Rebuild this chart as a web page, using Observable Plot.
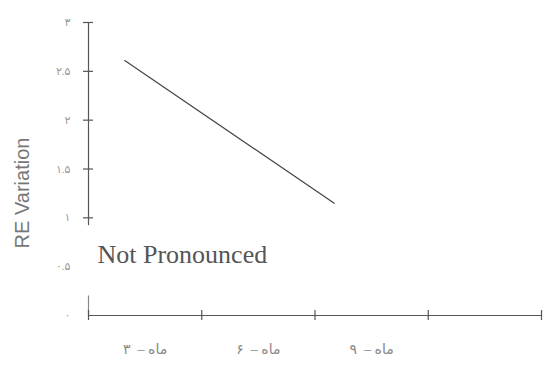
<!DOCTYPE html>
<html>
<head>
<meta charset="utf-8">
<script src="https://cdn.jsdelivr.net/npm/d3@7"></script>
<script src="https://cdn.jsdelivr.net/npm/@observablehq/plot@0.6"></script>
<style>
  html, body { margin: 0; padding: 0; background: #fff; }
  #chart svg { display: block; }
</style>
</head>
<body>
<div id="chart"></div>
<script>
// Data
const lineX = [0.32, 2.17];
const lineY = [2.61, 1.15];
const xTickValues = [0, 1, 2, 3, 4];
const xLabelValues = [0.5, 1.5, 2.5];
const xLabels = ["ماه –  ۳", "ماه –  ۶", "ماه –  ۹"];
const yLabelValues = [0, 0.5, 1, 1.5, 2, 2.5, 3];
const yLabels = ["۰", "۰.۵", "۱", "۱.۵", "۲", "۲.۵", "۳"];
const yTickValues = [1, 1.5, 2, 2.5, 3];
const yAxisSpan = [0.92, 3];
const yBreakSpan = [0, 0.2];
const yTitle = "RE Variation";
const note = "Not Pronounced";

const points = lineX.map((x, i) => ({x, y: lineY[i]}));
const xLabelMap = new Map(xLabelValues.map((v, i) => [v, xLabels[i]]));
const yLabelMap = new Map(yLabelValues.map((v, i) => [v, yLabels[i]]));

const chart = Plot.plot({
  width: 543,
  height: 365,
  marginLeft: 88,
  marginRight: 2,
  marginTop: 22,
  marginBottom: 50,
  style: {fontFamily: "'Liberation Serif', 'DejaVu Sans', serif", background: "#fff"},
  x: {domain: [0, 4]},
  y: {domain: [0, 3]},
  marks: [
    Plot.ruleX([0], {y1: yAxisSpan[0], y2: yAxisSpan[1], stroke: "#555", strokeWidth: 1.2}),
    Plot.ruleX([0], {y1: yBreakSpan[0], y2: yBreakSpan[1], stroke: "#888", strokeWidth: 1.2}),
    Plot.ruleY([0], {stroke: "#555", strokeWidth: 1.2}),
    Plot.axisX({ticks: xTickValues, tickSize: 10, dy: -5, tickFormat: () => "", stroke: "#555", strokeWidth: 1.2, label: null}),
    Plot.axisX({ticks: xLabelValues, tickSize: 0, tickPadding: 29, tickFormat: d => xLabelMap.get(d), fill: "#888", fontSize: 14, label: null}),
    Plot.axisY({ticks: yLabelValues, tickSize: 0, tickPadding: 18, tickFormat: d => yLabelMap.get(d), fill: "#999", fontSize: 11, label: null}),
    Plot.axisY({ticks: yTickValues, tickSize: 10, dx: 5, tickFormat: () => "", stroke: "#555", strokeWidth: 1.2, label: null}),
    Plot.line(points, {x: "x", y: "y", stroke: "#444", strokeWidth: 1.2}),
    Plot.text([yTitle], {frameAnchor: "left", dx: -66, dy: 24, rotate: -90, textAnchor: "middle", fontSize: 20, fill: "#777", fontFamily: "'Liberation Sans', Arial, sans-serif"}),
    Plot.text([note], {frameAnchor: "top-left", dx: 9, dy: 222, textAnchor: "start", fontSize: 26, fill: "#555"})
  ]
});
document.getElementById("chart").appendChild(chart);
</script>
</body>
</html>
